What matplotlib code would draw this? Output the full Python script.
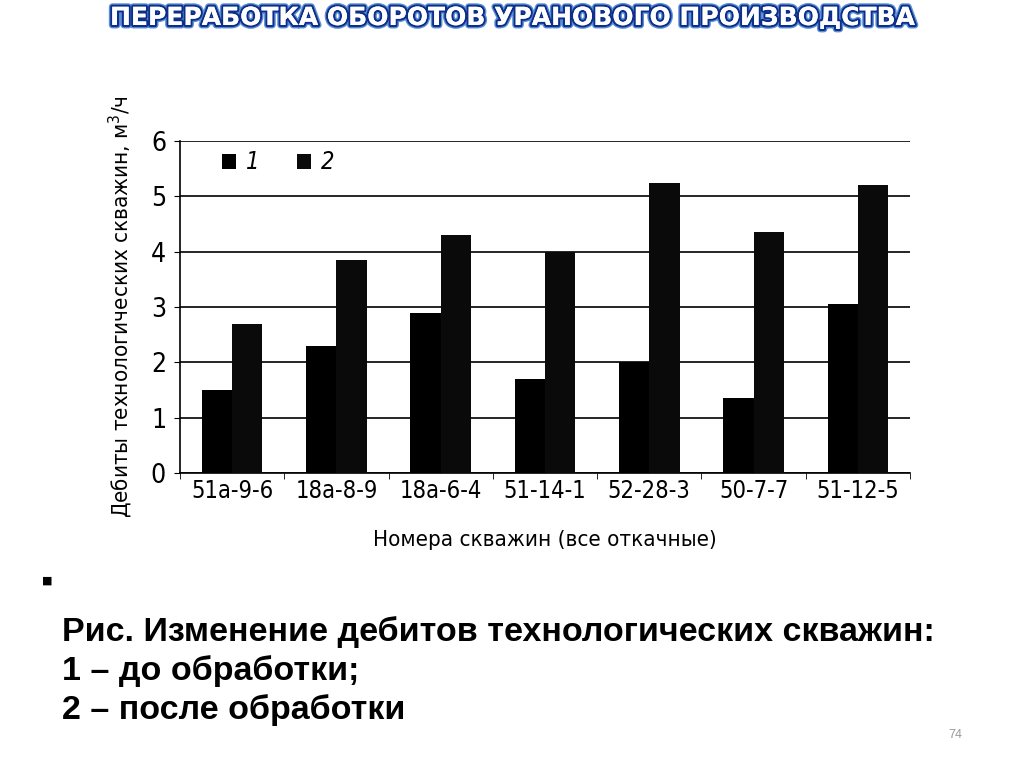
import numpy as np
import matplotlib.pyplot as plt
import matplotlib.patheffects as pe

plt.rcParams['font.family'] = ['DejaVu Sans']
plt.rcParams['font.stretch'] = 'condensed'

wells = ['51а-9-6', '18а-8-9', '18а-6-4', '51-14-1', '52-28-3', '50-7-7', '51-12-5']
before = [1.5, 2.3, 2.9, 1.7, 2.0, 1.35, 3.05]
after = [2.7, 3.85, 4.3, 4.0, 5.25, 4.35, 5.2]

fig = plt.figure(figsize=(10.24, 7.67), dpi=100)
ax = fig.add_axes([180/1024, 1-473/767, 730/1024, (473-141)/767])

x = np.arange(len(wells))
w = 0.29
ax.bar(x - w/2, before, w, color='black', zorder=3, label='1')
ax.bar(x + w/2, after, w, color='#0a0a0a', zorder=3, label='2')

ax.set_xlim(-0.5, len(wells) - 0.5)
ax.set_ylim(0, 6)
ax.set_yticks(range(7))
ax.set_yticklabels([str(i) for i in range(7)], fontsize=19)
ax.yaxis.grid(True, color='black', linewidth=1.2, zorder=1)
ax.set_xticks(x)
ax.set_xticklabels(wells, fontsize=17)
ax.set_xticks(np.arange(len(wells) + 1) - 0.5, minor=True)
ax.tick_params(axis='x', which='major', length=0, pad=4)
ax.tick_params(axis='x', which='minor', length=4, direction='out')
ax.tick_params(axis='y', length=4, pad=6)
for s in ['top', 'right']:
    ax.spines[s].set_visible(False)
ax.spines['left'].set_linewidth(1.2)
ax.spines['bottom'].set_linewidth(1.2)

ax.set_xlabel('Номера скважин (все откачные)', fontsize=16, labelpad=20)
ax.set_ylabel('Дебиты технологических скважин, м$^3$/ч', fontsize=16, labelpad=12)

leg = ax.legend(loc='upper left', bbox_to_anchor=(0.045, 1.0), borderaxespad=0, ncol=2,
                frameon=False, handlelength=0.6, handleheight=0.6, handletextpad=0.4,
                columnspacing=1.6, prop={'size': 17, 'style': 'italic', 'stretch': 'condensed'})

title = fig.text(0.5, 1-18/767, 'ПЕРЕРАБОТКА ОБОРОТОВ УРАНОВОГО ПРОИЗВОДСТВА',
                 ha='center', va='center', fontsize=18, fontweight='bold',
                 color='white', family='DejaVu Sans', stretch='normal')
title.set_path_effects([pe.withStroke(linewidth=5, foreground='#5b8fd6'),
                        pe.withStroke(linewidth=3, foreground='#0d2f8a'),
                        pe.Normal()])

caption = ['Рис. Изменение дебитов технологических скважин:',
           '1 – до обработки;',
           '2 – после обработки']
for i, line in enumerate(caption):
    fig.text(62/1024, 1-(632 + i*39)/767, line, ha='left', va='center',
             fontsize=24.5, fontweight='bold', family='Liberation Sans', stretch='normal')

fig.text(47/1024, 1-581/767, '■', ha='center', va='center', fontsize=8, stretch='normal')
fig.text(955/1024, 1-735/767, '74', ha='center', va='center', fontsize=9, color='#999999',
         family='Liberation Sans', stretch='normal')

fig.savefig('out.png', dpi=100)
